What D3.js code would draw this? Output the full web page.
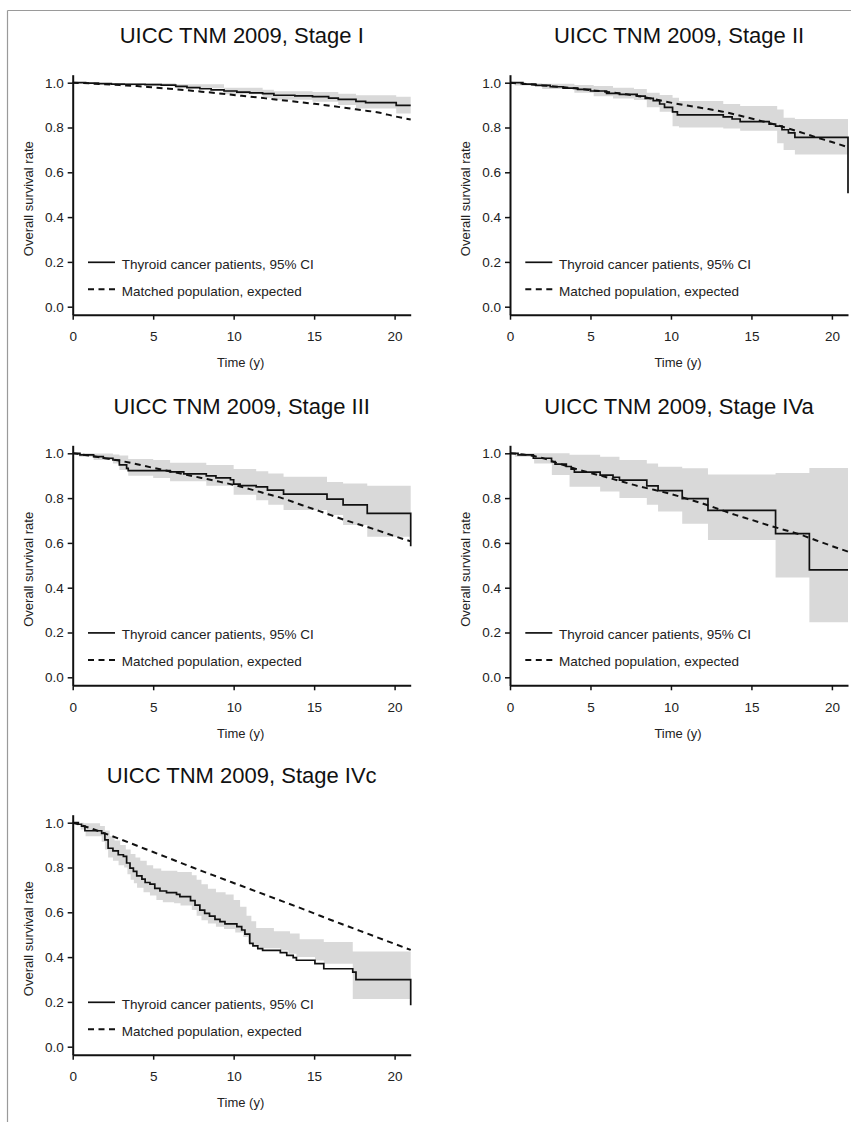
<!DOCTYPE html>
<html>
<head>
<meta charset="utf-8">
<script src="https://cdn.jsdelivr.net/npm/d3@7"></script>
<style>
  body { margin: 0; background: #fff; }
  text { font-family: "Liberation Sans", Arial, sans-serif; }
</style>
</head>
<body>
<div id="fig"></div>
<script>
// ---- data ----
const titles = ["UICC TNM 2009, Stage I", "UICC TNM 2009, Stage II", "UICC TNM 2009, Stage III",
                "UICC TNM 2009, Stage IVa", "UICC TNM 2009, Stage IVc"];
const xTicks = [0, 5, 10, 15, 20];
const yTicks = [0, 0.2, 0.4, 0.6, 0.8, 1.0];
const legendLabels = ["Thyroid cancer patients, 95% CI", "Matched population, expected"];
const xLabel = "Time (y)";
const yLabel = "Overall survival rate";
const maxTime = 21;

// expected survival, one value per year 0..21
const expYears = [0, 1, 2, 3, 4, 5, 6, 7, 8, 9, 10, 11, 12, 13, 14, 15, 16, 17, 18, 19, 20, 21];

// Stage I
const s1Time = [0, 0.8, 1.6, 2.4, 3.2, 4.5, 5.5, 6.4, 7.1, 7.9, 8.6, 9.4, 10.2, 11.0, 11.8, 12.5, 13.8, 14.9, 15.9, 16.5, 17.6, 18.2, 20.1];
const s1Surv = [1, 0.998, 0.996, 0.994, 0.993, 0.991, 0.989, 0.984, 0.978, 0.973, 0.968, 0.963, 0.958, 0.955, 0.951, 0.944, 0.941, 0.938, 0.931, 0.926, 0.917, 0.911, 0.899];
const s1CiTime = [0, 3, 6.4, 9.4, 11.8, 12.5, 14.9, 16.5, 17.6, 20.1];
const s1CiHigh = [1, 0.998, 0.993, 0.978, 0.968, 0.962, 0.958, 0.951, 0.944, 0.937];
const s1CiLow  = [1, 0.988, 0.975, 0.948, 0.933, 0.924, 0.915, 0.900, 0.885, 0.863];
const s1Exp = [1, 0.997, 0.993, 0.989, 0.985, 0.979, 0.973, 0.967, 0.960, 0.953, 0.945, 0.938, 0.930, 0.922, 0.914, 0.906, 0.897, 0.887, 0.877, 0.867, 0.850, 0.836];
const s1EndDrop = null;

// Stage II
const s2Time = [0, 0.8, 1.6, 2.5, 3.3, 4.2, 5.0, 6.0, 6.8, 7.9, 8.4, 8.9, 9.3, 9.6, 10.1, 10.4, 13.25, 13.8, 14.3, 16.1, 16.5, 16.9, 17.3, 17.7];
const s2Surv = [1, 0.994, 0.988, 0.982, 0.976, 0.970, 0.963, 0.952, 0.948, 0.940, 0.930, 0.920, 0.905, 0.890, 0.870, 0.856, 0.847, 0.838, 0.826, 0.815, 0.806, 0.790, 0.776, 0.756];
const s2CiTime = [0, 0.3, 2, 4, 5.2, 6.4, 7.7, 8.5, 9.3, 10.1, 10.5, 13.25, 14.3, 16.6, 17.0, 17.7];
const s2CiHigh = [1, 0.998, 0.995, 0.990, 0.985, 0.978, 0.972, 0.955, 0.945, 0.933, 0.918, 0.905, 0.896, 0.880, 0.843, 0.838];
const s2CiLow  = [1, 0.988, 0.972, 0.955, 0.940, 0.930, 0.923, 0.890, 0.870, 0.806, 0.800, 0.795, 0.786, 0.730, 0.700, 0.680];
const s2Exp = [1, 0.994, 0.988, 0.982, 0.975, 0.967, 0.959, 0.950, 0.940, 0.926, 0.911, 0.898, 0.886, 0.874, 0.858, 0.840, 0.822, 0.802, 0.780, 0.757, 0.735, 0.712];
const s2EndDrop = 0.506;

// Stage III
const s3Time = [0, 0.45, 1.3, 1.9, 2.5, 2.9, 3.35, 3.45, 6.05, 6.9, 8.3, 8.9, 9.8, 10.0, 10.4, 11.4, 12.1, 13.1, 15.8, 16.8, 18.3];
const s3Surv = [1, 0.993, 0.985, 0.978, 0.970, 0.948, 0.933, 0.923, 0.917, 0.908, 0.899, 0.890, 0.882, 0.862, 0.856, 0.850, 0.836, 0.818, 0.795, 0.770, 0.732];
const s3CiTime = [0, 0.4, 1.3, 2.5, 2.9, 3.45, 5.0, 6.05, 8.3, 10.0, 11.4, 12.15, 13.1, 15.8, 16.8, 18.3];
const s3CiHigh = [1, 1, 0.999, 0.995, 0.990, 0.975, 0.970, 0.958, 0.948, 0.930, 0.920, 0.910, 0.895, 0.872, 0.865, 0.855];
const s3CiLow  = [1, 0.985, 0.970, 0.955, 0.925, 0.900, 0.890, 0.875, 0.855, 0.815, 0.790, 0.770, 0.747, 0.724, 0.680, 0.628];
const s3Exp = [1, 0.990, 0.978, 0.966, 0.951, 0.935, 0.920, 0.905, 0.890, 0.875, 0.859, 0.840, 0.820, 0.800, 0.775, 0.750, 0.725, 0.700, 0.678, 0.655, 0.630, 0.607];
const s3EndDrop = 0.585;

// Stage IVa
const s4Time = [0, 0.5, 1.45, 2.58, 2.8, 3.5, 3.8, 4.0, 5.6, 6.4, 6.8, 8.5, 9.2, 10.7, 12.3, 16.5, 18.6];
const s4Surv = [1, 0.993, 0.978, 0.963, 0.952, 0.941, 0.929, 0.916, 0.903, 0.893, 0.880, 0.855, 0.833, 0.798, 0.745, 0.641, 0.480];
const s4CiTime = [0, 0.3, 1.5, 2.6, 3.7, 5.6, 6.8, 8.5, 9.2, 10.7, 12.3, 16.5, 18.6];
const s4CiHigh = [1, 1, 1, 1, 0.993, 0.985, 0.970, 0.955, 0.940, 0.933, 0.905, 0.912, 0.934];
const s4CiLow  = [1, 0.985, 0.955, 0.903, 0.851, 0.829, 0.800, 0.770, 0.740, 0.685, 0.613, 0.446, 0.246];
const s4Exp = [1, 0.993, 0.979, 0.955, 0.932, 0.912, 0.893, 0.873, 0.853, 0.836, 0.818, 0.797, 0.775, 0.750, 0.725, 0.703, 0.680, 0.659, 0.638, 0.612, 0.586, 0.561];
const s4EndDrop = null;

// Stage IVc
const s5Time = [0, 0.35, 0.55, 0.76, 1.8, 2.0, 2.2, 2.5, 2.83, 3.15, 3.35, 3.56, 3.77, 3.98, 4.3, 4.5, 4.8, 5.1, 5.42, 5.83, 6.45, 6.66, 7.32, 7.6, 7.9, 8.2, 8.5, 8.84, 9.15, 9.46, 10.2, 10.5, 10.7, 11.0, 11.2, 11.5, 11.8, 12.9, 13.3, 13.7, 13.9, 15.05, 15.6, 17.4, 17.6];
const s5Surv = [1, 0.993, 0.985, 0.964, 0.952, 0.923, 0.886, 0.874, 0.857, 0.850, 0.820, 0.797, 0.783, 0.763, 0.748, 0.733, 0.726, 0.707, 0.695, 0.688, 0.680, 0.670, 0.652, 0.632, 0.610, 0.595, 0.583, 0.568, 0.558, 0.548, 0.536, 0.521, 0.503, 0.461, 0.450, 0.438, 0.430, 0.420, 0.408, 0.398, 0.386, 0.371, 0.348, 0.333, 0.299];
const s5HiTime = [0, 0.7, 1.7, 2.0, 2.3, 2.6, 2.95, 3.3, 3.6, 3.9, 4.2, 4.6, 5.0, 5.5, 6.5, 7.4, 7.7, 8.0, 8.4, 8.9, 9.5, 10.0, 10.4, 10.8, 11.1, 11.4, 12.5, 13.5, 14.1, 15.6, 17.4];
const s5CiHigh = [1, 0.997, 0.985, 0.965, 0.940, 0.920, 0.900, 0.880, 0.860, 0.845, 0.830, 0.810, 0.795, 0.785, 0.780, 0.765, 0.745, 0.725, 0.705, 0.690, 0.680, 0.655, 0.625, 0.585, 0.560, 0.530, 0.515, 0.505, 0.480, 0.467, 0.425];
const s5LoTime = [0, 0.5, 0.8, 1.8, 2.0, 2.2, 2.5, 2.85, 3.2, 3.4, 3.6, 3.8, 4.0, 4.4, 4.8, 5.2, 5.6, 6.3, 6.7, 7.4, 7.7, 8.0, 8.4, 8.9, 9.4, 10.1, 10.6, 10.9, 11.2, 11.6, 12.9, 13.4, 13.9, 15.05, 15.6, 17.4];
const s5CiLow  = [1, 0.970, 0.940, 0.915, 0.880, 0.845, 0.830, 0.810, 0.800, 0.770, 0.745, 0.730, 0.710, 0.690, 0.675, 0.655, 0.645, 0.640, 0.630, 0.610, 0.585, 0.565, 0.550, 0.535, 0.525, 0.510, 0.490, 0.465, 0.450, 0.440, 0.430, 0.415, 0.400, 0.385, 0.370, 0.213];
const s5Exp = [1, 0.978, 0.952, 0.925, 0.897, 0.869, 0.841, 0.813, 0.785, 0.758, 0.731, 0.704, 0.677, 0.650, 0.623, 0.595, 0.567, 0.540, 0.513, 0.486, 0.459, 0.432];
const s5EndDrop = 0.185;

// ---- layout ----
const WIDTH = 851, HEIGHT = 1122;
const PLOT_W = 338, PLOT_H = 224;
const colX = [72.7, 510];
const rowY = [82.7, 453.3, 822.7];   // pixel row of survival = 1.0

const svg = d3.select("#fig").append("svg")
    .attr("width", WIDTH).attr("height", HEIGHT);

svg.append("rect").attr("width", WIDTH).attr("height", HEIGHT).attr("fill", "#fff");

// frame remnants (top and left edges)
svg.append("line").attr("x1", 7.5).attr("x2", WIDTH).attr("y1", 10.5).attr("y2", 10.5)
   .attr("stroke", "#9a9a9a").attr("stroke-width", 1.2);
svg.append("line").attr("x1", 7.5).attr("x2", 7.5).attr("y1", 10.5).attr("y2", HEIGHT)
   .attr("stroke", "#9a9a9a").attr("stroke-width", 1.2);

const zip = (ts, vs) => ts.map((t, i) => ({t: t, v: vs[i]}));

// value of a step function (last step at or before t)
const stepAt = (ts, vs, t) => vs[d3.bisectRight(ts, t) - 1];

let panels = [
    {title: titles[0], time: s1Time, surv: s1Surv, hiTime: s1CiTime, hi: s1CiHigh, loTime: s1CiTime, lo: s1CiLow, exp: s1Exp, drop: s1EndDrop},
    {title: titles[1], time: s2Time, surv: s2Surv, hiTime: s2CiTime, hi: s2CiHigh, loTime: s2CiTime, lo: s2CiLow, exp: s2Exp, drop: s2EndDrop},
    {title: titles[2], time: s3Time, surv: s3Surv, hiTime: s3CiTime, hi: s3CiHigh, loTime: s3CiTime, lo: s3CiLow, exp: s3Exp, drop: s3EndDrop},
    {title: titles[3], time: s4Time, surv: s4Surv, hiTime: s4CiTime, hi: s4CiHigh, loTime: s4CiTime, lo: s4CiLow, exp: s4Exp, drop: s4EndDrop},
    {title: titles[4], time: s5Time, surv: s5Surv, hiTime: s5HiTime, hi: s5CiHigh, loTime: s5LoTime, lo: s5CiLow, exp: s5Exp, drop: s5EndDrop},
];

function drawPanel(p, x0, y1) {
    const g = svg.append("g");

    const x = d3.scaleLinear().domain([0, maxTime]).range([x0, x0 + PLOT_W]);
    const y = d3.scaleLinear().domain([0, 1]).range([y1 + PLOT_H, y1]);
    // axis scale runs a little past 0 and 1, like the original
    const pad = 8 / PLOT_H;
    const yAxisScale = d3.scaleLinear().domain([-pad, 1 + pad]).range([y1 + PLOT_H + 8, y1 - 8]);

    // CI band: both limits are step functions
    const times = Array.from(new Set(p.hiTime.concat(p.loTime))).sort((a, b) => a - b);
    const ci = times.map(t => ({t: t, hi: stepAt(p.hiTime, p.hi, t), lo: stepAt(p.loTime, p.lo, t)}));
    ci.push({t: maxTime, hi: p.hi.at(-1), lo: p.lo.at(-1)});
    g.append("path")
     .datum(ci)
     .attr("fill", "#d9d9d9")
     .attr("d", d3.area().curve(d3.curveStepAfter)
                  .x(d => x(d.t)).y0(d => y(d.lo)).y1(d => y(d.hi)));

    // expected (dashed)
    g.append("path")
     .datum(zip(expYears, p.exp))
     .attr("fill", "none")
     .attr("stroke", "#111")
     .attr("stroke-width", 2)
     .attr("stroke-dasharray", "6,4.5")
     .attr("d", d3.line().curve(d3.curveMonotoneX).x(d => x(d.t)).y(d => y(d.v)));

    // KM curve (solid steps)
    let km = zip(p.time, p.surv);
    km.push({t: maxTime, v: p.surv.at(-1)});
    if (p.drop != null) km.push({t: maxTime, v: p.drop});
    g.append("path")
     .datum(km)
     .attr("fill", "none")
     .attr("stroke", "#111")
     .attr("stroke-width", 1.7)
     .attr("d", d3.line().curve(d3.curveStepAfter).x(d => x(d.t)).y(d => y(d.v)));

    // axes
    const yAxis = d3.axisLeft(yAxisScale).tickValues(yTicks).tickFormat(d3.format(".1f"))
                    .tickSize(5).tickSizeOuter(0).tickPadding(4);
    const yAxisCont = g.append("g").attr("transform", `translate(${x0}, 0)`).call(yAxis);

    const xAxis = d3.axisBottom(x).tickValues(xTicks).tickSize(5).tickSizeOuter(0).tickPadding(12);
    const xAxisCont = g.append("g").attr("transform", `translate(0, ${y1 + PLOT_H + 8})`).call(xAxis);

    [yAxisCont, xAxisCont].forEach(a => {
        a.select(".domain").attr("stroke", "#111").attr("stroke-width", 2);
        a.selectAll(".tick line").attr("stroke", "#111").attr("stroke-width", 1.5);
        a.selectAll("text").attr("font-size", 13.5).attr("fill", "#222")
         .style("font-family", "'Liberation Sans', Arial, sans-serif");
    });

    // title
    g.append("text")
     .text(p.title)
     .attr("x", x0 + PLOT_W / 2)
     .attr("y", y1 - 39.7)
     .attr("text-anchor", "middle")
     .attr("font-size", 22)
     .attr("fill", "#111");

    // axis labels
    g.append("text")
     .text(xLabel)
     .attr("x", x0 + PLOT_W / 2 - 1)
     .attr("y", y1 + PLOT_H + 60.4)
     .attr("text-anchor", "middle")
     .attr("font-size", 13)
     .attr("fill", "#222");

    g.append("text")
     .text(yLabel)
     .attr("transform", `translate(${x0 - 40}, ${y1 + 116}) rotate(-90)`)
     .attr("text-anchor", "middle")
     .attr("font-size", 13)
     .attr("fill", "#222");

    // legend
    const legY = [y1 + 179.6, y1 + 206.6];
    g.append("line").attr("x1", x0 + 15.3).attr("x2", x0 + 42.3)
     .attr("y1", legY[0]).attr("y2", legY[0])
     .attr("stroke", "#111").attr("stroke-width", 1.7);
    g.append("line").attr("x1", x0 + 15.3).attr("x2", x0 + 42.3)
     .attr("y1", legY[1]).attr("y2", legY[1])
     .attr("stroke", "#111").attr("stroke-width", 2).attr("stroke-dasharray", "6,4.5");
    legendLabels.forEach((lab, i) => {
        g.append("text")
         .text(lab)
         .attr("x", x0 + 49)
         .attr("y", legY[i] + 6.5)
         .attr("font-size", 13.5)
         .attr("fill", "#222");
    });
}

panels.forEach((p, i) => {
    drawPanel(p, colX[i % 2], rowY[Math.floor(i / 2)]);
});
</script>
</body>
</html>
